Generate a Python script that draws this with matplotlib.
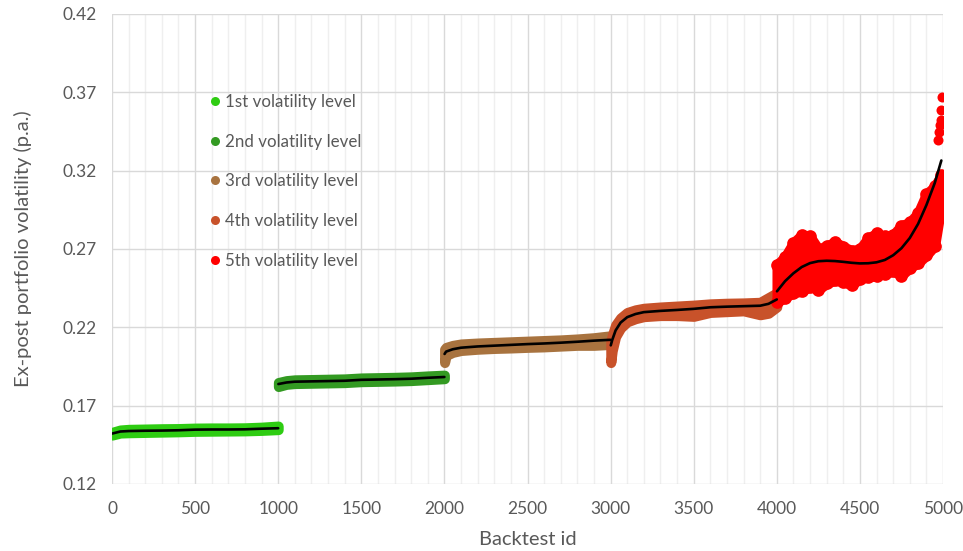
import numpy as np
import matplotlib
matplotlib.use("Agg")
import matplotlib.pyplot as plt
from matplotlib.ticker import MultipleLocator, FixedLocator, FormatStrFormatter
from matplotlib.lines import Line2D

plt.rcParams['font.family'] = ['Lato', 'DejaVu Sans']

labels = ["1st volatility level", "2nd volatility level", "3rd volatility level",
          "4th volatility level", "5th volatility level"]
colors = ["#2ecc12", "#339a22", "#a8733f", "#c8522a", "#ff0000"]
yticks = [0.12, 0.17, 0.22, 0.27, 0.32, 0.37, 0.42]
xticks = [0, 500, 1000, 1500, 2000, 2500, 3000, 3500, 4000, 4500, 5000]

# Level 1
ids1 = [1, 50, 100, 200, 300, 400, 500, 600, 700, 800, 900, 1000]
trend1 = [0.1522, 0.1535, 0.1538, 0.1540, 0.1541, 0.1543, 0.1547, 0.1548, 0.1548, 0.1549, 0.1553, 0.1556]
lo1 = [0.1512, 0.1525, 0.1527, 0.1529, 0.1531, 0.1533, 0.1536, 0.1537, 0.1538, 0.1539, 0.1542, 0.1547]
hi1 = [0.1530, 0.1545, 0.1549, 0.1551, 0.1553, 0.1554, 0.1557, 0.1558, 0.1558, 0.1559, 0.1563, 0.1570]

# Level 2
ids2 = [1001, 1050, 1100, 1200, 1300, 1400, 1500, 1600, 1700, 1800, 1900, 2000]
trend2 = [0.1838, 0.1848, 0.1853, 0.1855, 0.1857, 0.1859, 0.1865, 0.1867, 0.1869, 0.1872, 0.1878, 0.1883]
lo2 = [0.1822, 0.1836, 0.1841, 0.1843, 0.1845, 0.1847, 0.1853, 0.1855, 0.1857, 0.1860, 0.1866, 0.1872]
hi2 = [0.1848, 0.1860, 0.1865, 0.1867, 0.1869, 0.1871, 0.1877, 0.1879, 0.1881, 0.1884, 0.1890, 0.1895]

# Level 3
ids3 = [2001, 2010, 2050, 2100, 2200, 2300, 2400, 2500, 2600, 2700, 2800, 2900, 2990, 3000]
trend3 = [0.2030, 0.2045, 0.2060, 0.2070, 0.2078, 0.2083, 0.2088, 0.2093, 0.2097, 0.2102, 0.2108, 0.2115, 0.2120, 0.2120]
lo3 = [0.1975, 0.2020, 0.2040, 0.2052, 0.2060, 0.2065, 0.2068, 0.2072, 0.2075, 0.2080, 0.2085, 0.2085, 0.2090, 0.2100]
hi3 = [0.2060, 0.2072, 0.2085, 0.2094, 0.2100, 0.2104, 0.2108, 0.2112, 0.2116, 0.2120, 0.2126, 0.2134, 0.2145, 0.2145]

# Level 4
ids4 = [3001, 3010, 3030, 3060, 3100, 3150, 3200, 3300, 3400, 3500, 3600, 3700, 3800, 3900, 3950, 4000]
trend4 = [0.2085, 0.2120, 0.2180, 0.2230, 0.2265, 0.2285, 0.2297, 0.2305, 0.2311, 0.2318, 0.2328, 0.2332, 0.2335, 0.2338, 0.2350, 0.2378]
lo4 = [0.1975, 0.2050, 0.2140, 0.2195, 0.2235, 0.2255, 0.2268, 0.2275, 0.2275, 0.2270, 0.2295, 0.2300, 0.2305, 0.2280, 0.2290, 0.2330]
hi4 = [0.2110, 0.2150, 0.2215, 0.2260, 0.2295, 0.2312, 0.2322, 0.2330, 0.2336, 0.2342, 0.2350, 0.2354, 0.2356, 0.2360, 0.2390, 0.2420]

# Level 5
ids5 = [4001, 4050, 4100, 4150, 4200, 4250, 4300, 4350, 4400, 4450, 4500,
        4550, 4600, 4650, 4700, 4750, 4800, 4850, 4900, 4950, 4990]
trend5 = [0.2430, 0.2495, 0.2545, 0.2585, 0.2610, 0.2622, 0.2625, 0.2623, 0.2618, 0.2612, 0.2608,
          0.2609, 0.2615, 0.2630, 0.2660, 0.2705, 0.2770, 0.2860, 0.2980, 0.3120, 0.3265]
lo5 = [0.2360, 0.2390, 0.2420, 0.2430, 0.2460, 0.2440, 0.2480, 0.2500, 0.2490, 0.2470, 0.2510,
       0.2520, 0.2530, 0.2540, 0.2560, 0.2530, 0.2580, 0.2610, 0.2660, 0.2720, 0.2980]
hi5 = [0.2600, 0.2650, 0.2740, 0.2790, 0.2780, 0.2700, 0.2720, 0.2745, 0.2715, 0.2690, 0.2700,
       0.2770, 0.2800, 0.2780, 0.2790, 0.2850, 0.2870, 0.2930, 0.3050, 0.3100, 0.3170]
out_ids5 = [4968, 4975, 4980, 4985, 4990, 4995]
out_vals5 = [0.3396, 0.3450, 0.3490, 0.3523, 0.3587, 0.3668]

groups = [(ids1, trend1, lo1, hi1), (ids2, trend2, lo2, hi2), (ids3, trend3, lo3, hi3),
          (ids4, trend4, lo4, hi4), (ids5, trend5, lo5, hi5)]

fig = plt.figure(figsize=(9.63, 5.51), dpi=100)
ax = fig.add_axes([112/963, 1-484/551, 831/963, 470/551])

ms = 52
for k, ((ids, tr, lo, hi), c) in enumerate(zip(groups, colors)):
    poly = ax.fill_between(ids, lo, hi, color=c, lw=7.2, edgecolor=c, zorder=2)
    poly.set_joinstyle('round')
    poly.set_capstyle('round')
    if k == 4:
        ax.scatter(ids, lo, s=ms * 1.6, color=c, lw=0, zorder=3)
        ax.scatter(ids, hi, s=ms * 1.6, color=c, lw=0, zorder=3)
ax.scatter(out_ids5, out_vals5, s=ms, color=colors[4], lw=0, zorder=3)

for (ids, tr, lo, hi) in groups:
    ax.plot(ids, tr, color="black", lw=1.9, zorder=5, solid_capstyle='round')

ax.set_xlim(0, 5000)
ax.set_ylim(0.12, 0.42)
ax.xaxis.set_major_locator(FixedLocator(xticks))
ax.xaxis.set_minor_locator(MultipleLocator(100))
ax.yaxis.set_major_locator(FixedLocator(yticks))
ax.yaxis.set_major_formatter(FormatStrFormatter('%.2f'))
ax.grid(which='major', color='#d9d9d9', lw=1.0, zorder=0)
ax.grid(which='minor', axis='x', color='#efefef', lw=1.0, zorder=0)
ax.set_axisbelow(True)
for s in ax.spines.values():
    s.set_visible(False)
ax.tick_params(which='both', length=0)
ax.tick_params(axis='y', pad=11, labelsize=12.5, labelcolor='#595959')
ax.tick_params(axis='x', pad=12, labelsize=12.5, labelcolor='#595959')
ax.set_xlabel("Backtest id", fontsize=14.5, color='#595959', labelpad=10)
ax.set_ylabel("Ex-post portfolio volatility (p.a.)", fontsize=14.5, color='#595959', labelpad=22)

handles = [Line2D([], [], ls='none', marker='o', markersize=6.5, color=c, markeredgewidth=0)
           for c in colors]
leg = ax.legend(handles, labels, loc='upper left', bbox_to_anchor=(0.1155, 0.83),
                frameon=False, fontsize=12.2, labelcolor='#595959', handlelength=0.8,
                handletextpad=0.18, labelspacing=1.4, borderpad=0, borderaxespad=0)

fig.savefig("out.png", dpi=100)
